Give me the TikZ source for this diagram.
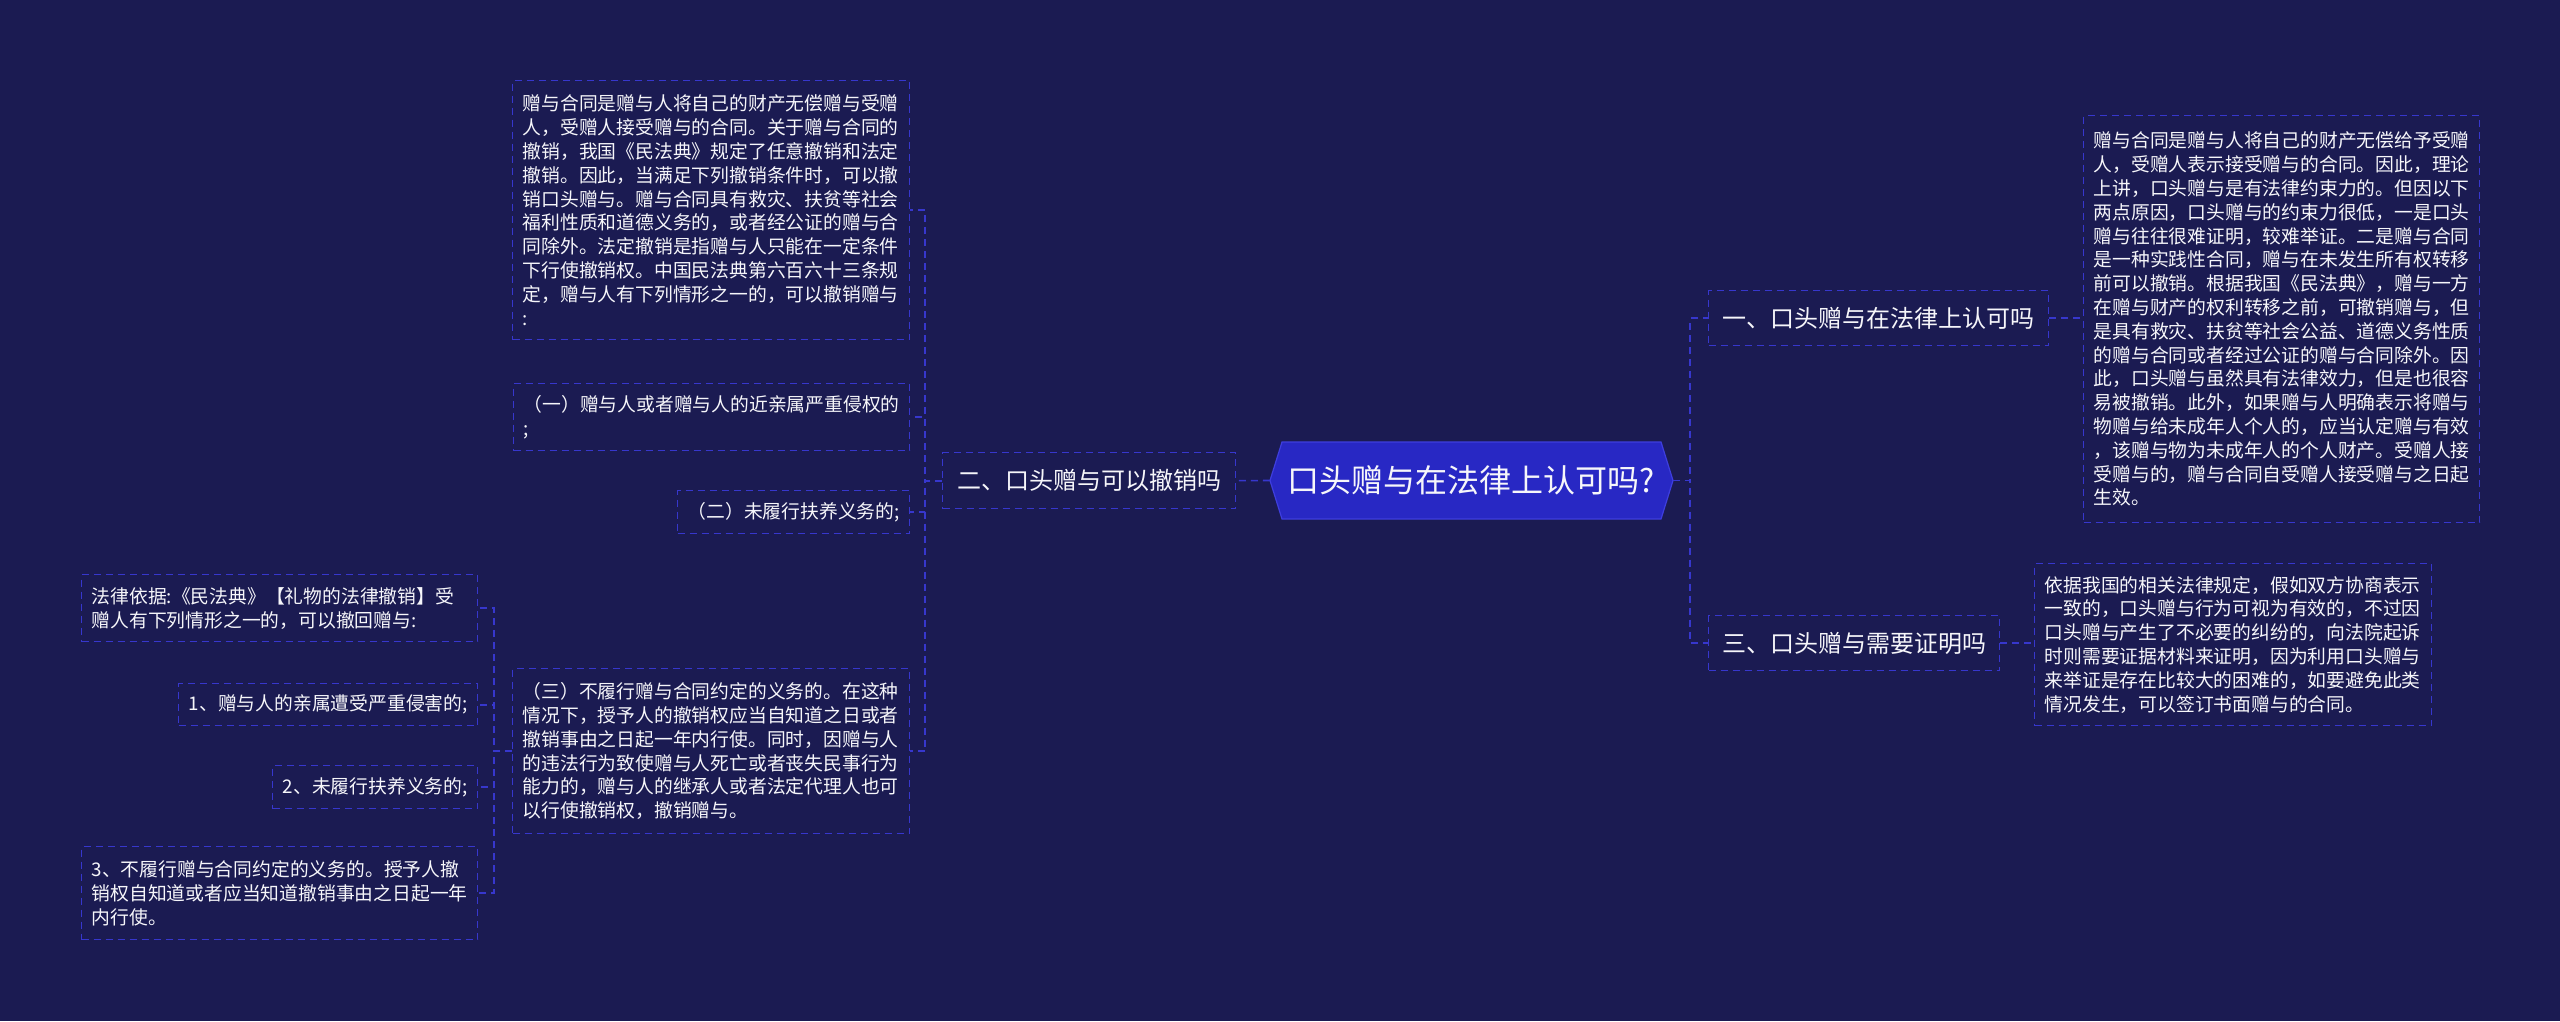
\documentclass[tikz,border=0pt]{standalone}
\usepackage{fontspec}
\setmainfont{Noto Sans CJK SC}
\usetikzlibrary{calc}
\definecolor{bg}{RGB}{27,27,82}
\definecolor{lineblue}{RGB}{55,55,205}
\definecolor{hexfill}{RGB}{40,40,196}
\definecolor{hexdraw}{RGB}{62,62,222}
\definecolor{txt}{RGB}{246,246,250}
\begin{document}
\begin{tikzpicture}[x=1pt,y=-1pt,
  box/.style={draw=lineblue, dash pattern=on 7pt off 5pt, line width=1.4pt, text=txt, inner xsep=10pt, inner ysep=4pt, anchor=north west},
  detail/.style={box, font=\fontsize{18.8}{23.8}\selectfont, align=left},
  detailone/.style={box, font=\fontsize{18.8}{23.8}\selectfont},
  branch/.style={box, font=\fontsize{24}{30}\selectfont, inner xsep=4pt},
  conn/.style={draw=lineblue, line width=1.6pt, dash pattern=on 7pt off 5pt},
]
\fill[bg] (0,0) rectangle (2560,1021);
\useasboundingbox (0,0) rectangle (2560,1021);

% centre
\coordinate (cc) at (1471.5,480.5);
\filldraw[fill=hexfill, draw=hexdraw, line width=1.2pt] ($(cc)+(-201.5,0)$) -- ($(cc)+(-189.5,-38.5)$) -- ($(cc)+(189.5,-38.5)$) -- ($(cc)+(201.5,0)$) -- ($(cc)+(189.5,38.5)$) -- ($(cc)+(-189.5,38.5)$) -- cycle;
\node[text=txt, font=\fontsize{32}{38}\selectfont, minimum width=403pt, minimum height=77pt, inner sep=0pt] (c) at (cc) {口头赠与在法律上认可吗?};

% branches
\node[branch, minimum width=293pt, minimum height=56pt] (b2) at (942,452) {二、口头赠与可以撤销吗};
\node[branch, minimum width=340pt, minimum height=55pt] (b1) at (1708,290) {一、口头赠与在法律上认可吗};
\node[branch, minimum width=291pt, minimum height=55pt] (b3) at (1708,615) {三、口头赠与需要证明吗};

% left details
\node[detail, text width=377pt, minimum height=259pt] (d1) at (512,80) {赠与合同是赠与人将自己的财产无偿赠与受赠\\人，受赠人接受赠与的合同。关于赠与合同的\\撤销，我国《民法典》规定了任意撤销和法定\\撤销。因此，当满足下列撤销条件时，可以撤\\销口头赠与。赠与合同具有救灾、扶贫等社会\\福利性质和道德义务的，或者经公证的赠与合\\同除外。法定撤销是指赠与人只能在一定条件\\下行使撤销权。中国民法典第六百六十三条规\\定，赠与人有下列情形之一的，可以撤销赠与\\:};
\node[detail, text width=376pt, minimum height=67pt] (d2) at (513,383) {（一）赠与人或者赠与人的近亲属严重侵权的\\;};
\node[detailone, minimum width=232pt, minimum height=43pt] (d3) at (677,490) {（二）未履行扶养义务的;};
\node[detail, text width=377pt, minimum height=165pt] (d4) at (512,668) {（三）不履行赠与合同约定的义务的。在这种\\情况下，授予人的撤销权应当自知道之日或者\\撤销事由之日起一年内行使。同时，因赠与人\\的违法行为致使赠与人死亡或者丧失民事行为\\能力的，赠与人的继承人或者法定代理人也可\\以行使撤销权，撤销赠与。};

\node[detail, text width=376pt, minimum height=67pt] (d5) at (81,574) {法律依据:《民法典》【礼物的法律撤销】受\\赠人有下列情形之一的，可以撤回赠与:};
\node[detailone, minimum width=299pt, minimum height=42pt] (e1) at (178,683) {1、赠与人的亲属遭受严重侵害的;};
\node[detailone, minimum width=205pt, minimum height=43pt] (e2) at (272,765) {2、未履行扶养义务的;};
\node[detail, text width=376pt, minimum height=93pt] (e3) at (81,846) {3、不履行赠与合同约定的义务的。授予人撤\\销权自知道或者应当知道撤销事由之日起一年\\内行使。};

% right details
\node[detail, text width=376pt, minimum height=407pt] (r1) at (2083,115) {赠与合同是赠与人将自己的财产无偿给予受赠\\人，受赠人表示接受赠与的合同。因此，理论\\上讲，口头赠与是有法律约束力的。但因以下\\两点原因，口头赠与的约束力很低，一是口头\\赠与往往很难证明，较难举证。二是赠与合同\\是一种实践性合同，赠与在未发生所有权转移\\前可以撤销。根据我国《民法典》，赠与一方\\在赠与财产的权利转移之前，可撤销赠与，但\\是具有救灾、扶贫等社会公益、道德义务性质\\的赠与合同或者经过公证的赠与合同除外。因\\此，口头赠与虽然具有法律效力，但是也很容\\易被撤销。此外，如果赠与人明确表示将赠与\\物赠与给未成年人个人的，应当认定赠与有效\\，该赠与物为未成年人的个人财产。受赠人接\\受赠与的，赠与合同自受赠人接受赠与之日起\\生效。};
\node[detail, text width=377pt, minimum height=162pt] (r3) at (2034,563) {依据我国的相关法律规定，假如双方协商表示\\一致的，口头赠与行为可视为有效的，不过因\\口头赠与产生了不必要的纠纷的，向法院起诉\\时则需要证据材料来证明，因为利用口头赠与\\来举证是存在比较大的困难的，如要避免此类\\情况发生，可以签订书面赠与的合同。};

% connectors
\draw[conn] (c.west) -- (b2.east);
\draw[conn] (b2.west) -- ++(-17,0) |- (d1.east);
\draw[conn] (b2.west) -- ++(-17,0) |- (d2.east);
\draw[conn] (b2.west) -- ++(-17,0) |- (d3.east);
\draw[conn] (b2.west) -- ++(-17,0) |- (d4.east);
\draw[conn] (d4.west) -- ++(-18,0) |- (d5.east);
\draw[conn] (d4.west) -- ++(-18,0) |- (e1.east);
\draw[conn] (d4.west) -- ++(-18,0) |- (e2.east);
\draw[conn] (d4.west) -- ++(-18,0) |- (e3.east);
\draw[conn] (c.east) -- ++(17,0) |- (b1.west);
\draw[conn] (c.east) -- ++(17,0) |- (b3.west);
\draw[conn] (b1.east) -- (b1.east -| r1.west);
\draw[conn] (b3.east) -- (b3.east -| r3.west);
\end{tikzpicture}
\end{document}
